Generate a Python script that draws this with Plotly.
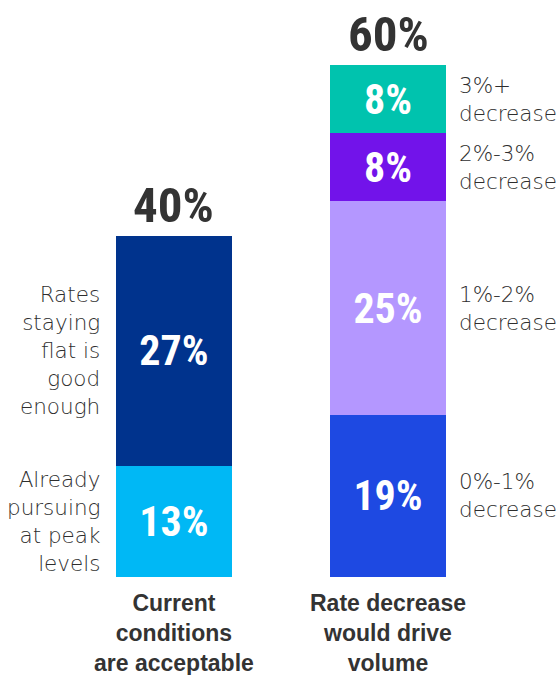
import plotly.graph_objects as go

categories = ["Current<br>conditions<br>are acceptable", "Rate decrease<br>would drive<br>volume"]

left_values = [13, 27]
left_labels = ["Already<br>pursuing<br>at peak<br>levels", "Rates<br>staying<br>flat is<br>good<br>enough"]
left_colors = ["#00B8F5", "#00338D"]

right_values = [19, 25, 8, 8]
right_labels = ["0%-1%<br>decrease", "1%-2%<br>decrease", "2%-3%<br>decrease", "3%+<br>decrease"]
right_colors = ["#1E49E2", "#B497FF", "#7213EA", "#00C3AE"]

totals = [sum(left_values), sum(right_values)]

BAR_W = 0.542
NUM_FAMILY = "Roboto Condensed, Liberation Sans Narrow, Roboto, sans-serif"
NUM_FONT = dict(family=NUM_FAMILY, weight="bold")
SIDE_FONT = dict(family="DejaVu Sans, sans-serif", weight=300, size=21.5, color="#2e2e2e")

fig = go.Figure()

def add_stack(xi, values, colors):
    for v, c in zip(values, colors):
        fig.add_trace(go.Bar(
            x=[xi], y=[v], width=BAR_W,
            marker=dict(color=c, line=dict(width=0)),
            text=[f"{v}%"], textposition="inside", insidetextanchor="middle",
            textangle=0,
            textfont=dict(color="white", size=42, **NUM_FONT),
            hoverinfo="skip", showlegend=False,
        ))

add_stack(0, left_values, left_colors)
add_stack(1, right_values, right_colors)

annotations = []

def side_labels(xi, values, labels, side):
    base = 0
    for v, lab in zip(values, labels):
        mid = base + v / 2
        base += v
        if side == "left":
            annotations.append(dict(x=xi - BAR_W / 2, y=mid, xref="x", yref="y", text=lab,
                                    showarrow=False, xanchor="right", yanchor="middle", align="right",
                                    xshift=-14, font=SIDE_FONT))
        else:
            annotations.append(dict(x=xi + BAR_W / 2, y=mid, xref="x", yref="y", text=lab,
                                    showarrow=False, xanchor="left", yanchor="middle", align="left",
                                    xshift=11, font=SIDE_FONT))

side_labels(0, left_values, left_labels, "left")
side_labels(1, right_values, right_labels, "right")

for xi, t in enumerate(totals):
    annotations.append(dict(x=xi, y=t, xref="x", yref="y", text=f"{t}%", showarrow=False,
                            xanchor="center", yanchor="bottom", yshift=0,
                            font=dict(size=49, color="#333333", **NUM_FONT)))

for xi, cat in enumerate(categories):
    annotations.append(dict(x=xi, y=0, xref="x", yref="y", text=cat, showarrow=False,
                            xanchor="center", yanchor="top", yshift=-11, align="center",
                            font=dict(family="Liberation Sans, Arial, sans-serif", weight="bold", size=23, color="#333333")))

fig.update_layout(
    width=559, height=675,
    barmode="stack",
    margin=dict(l=0, r=0, t=0, b=98),
    paper_bgcolor="white", plot_bgcolor="white",
    xaxis=dict(range=[-0.813, 1.799], visible=False, fixedrange=True),
    yaxis=dict(range=[0, 67.6], visible=False, fixedrange=True),
    annotations=annotations,
    showlegend=False,
)

fig.write_html("out.html")
